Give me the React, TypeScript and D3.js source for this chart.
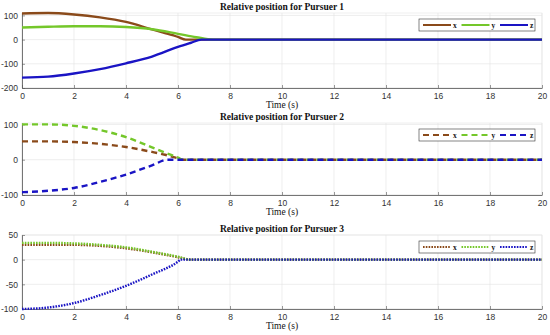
import React, { useEffect, useRef } from 'react'
import * as d3 from 'd3'

// Pursuer 1 (solid)
const p1xT = [0, 1, 2, 3, 4, 5, 5.5, 6, 6.3, 20]
const p1xV = [108, 110, 104, 92, 73, 42, 27, 11, 0, 0]
const p1yT = [0, 1, 2, 3, 4, 5, 6, 6.7, 7.35, 20]
const p1yV = [50, 53, 55, 55, 52, 43, 24, 10, 0, 0]
const p1zT = [0, 1, 2, 3, 4, 5, 6, 6.5, 6.9, 20]
const p1zV = [-157, -153, -140, -122, -98, -70, -30, -13, 0, 0]

// Pursuer 2 (dashed)
const p2xT = [0, 1, 2, 3, 4, 5, 5.5, 6, 6.2, 20]
const p2xV = [52, 52, 50, 45, 36, 22, 14, 4, 0, 0]
const p2yT = [0, 1, 2, 3, 4, 5, 5.5, 6, 6.2, 20]
const p2yV = [100, 100, 96, 84, 64, 35, 20, 6, 0, 0]
const p2zT = [0, 1, 2, 3, 4, 5, 5.6, 20]
const p2zV = [-92, -88, -80, -63, -42, -16, 0, 0]

// Pursuer 3 (dotted)
const p3xT = [0, 1, 2, 3, 4, 5, 6, 6.5, 20]
const p3xV = [30, 30, 30, 28, 23, 15, 5, 0, 0]
const p3yT = [0, 1, 2, 3, 4, 5, 6, 6.5, 20]
const p3yV = [34, 34, 33, 30, 25, 16, 6, 0, 0]
const p3zT = [0, 1, 2, 3, 4, 5, 6, 6.1, 20]
const p3zV = [-100, -97, -88, -72, -53, -30, -4, 0, 0]

const xTicks = [0, 2, 4, 6, 8, 10, 12, 14, 16, 18, 20]
const seriesNames = ['x', 'y', 'z']
const colors = ['#8a4a1a', '#74c72a', '#1a14c4']

const panels = [
  { title: 'Relative position for Pursuer 1', top: 13, bottom: 88, yDomain: [-200, 110], yTicks: [-200, -100, 0, 100], dash: 'none',
    series: [[p1xT, p1xV], [p1yT, p1yV], [p1zT, p1zV]] },
  { title: 'Relative position for Pursuer 2', top: 123, bottom: 195, yDomain: [-100, 104], yTicks: [-100, 0, 100], dash: '6,4',
    series: [[p2xT, p2xV], [p2yT, p2yV], [p2zT, p2zV]] },
  { title: 'Relative position for Pursuer 3', top: 235, bottom: 309, yDomain: [-100, 50], yTicks: [-100, -50, 0, 50], dash: '1.6,1.2',
    series: [[p3xT, p3xV], [p3yT, p3yV], [p3zT, p3zV]] },
]

export default function App() {
  const svgRef = useRef<SVGSVGElement>(null)

  useEffect(() => {
    const svg = d3.select(svgRef.current)
    svg.selectAll('*').remove()

    const width = 550
    const height = 335
    const left = 22
    const right = 542
    svg.attr('width', width).attr('height', height)
    svg.append('rect').attr('width', width).attr('height', height).attr('fill', '#fff')

    const x = d3.scaleLinear().domain([0, 20]).range([left, right])
    const fmt = (d: d3.NumberValue) => String(d)

    panels.forEach((p) => {
      const y = d3.scaleLinear().domain(p.yDomain).range([p.bottom, p.top])
      const g = svg.append('g')

      // grid
      g.selectAll('.gx').data(xTicks).enter().append('line')
        .attr('x1', (d) => x(d)).attr('x2', (d) => x(d))
        .attr('y1', p.top).attr('y2', p.bottom)
        .attr('stroke', '#e3e3e3').attr('stroke-width', 0.6)
      g.selectAll('.gy').data(p.yTicks).enter().append('line')
        .attr('x1', left).attr('x2', right)
        .attr('y1', (d) => y(d)).attr('y2', (d) => y(d))
        .attr('stroke', '#e3e3e3').attr('stroke-width', 0.6)
      g.append('rect')
        .attr('x', left).attr('y', p.top).attr('width', right - left).attr('height', p.bottom - p.top)
        .attr('fill', 'none').attr('stroke', '#e3e3e3').attr('stroke-width', 0.6)

      // axes
      const xAxis = g.append('g').attr('transform', `translate(0,${p.bottom})`)
        .call(d3.axisBottom(x).tickValues(xTicks).tickFormat(fmt).tickSizeInner(-3).tickSizeOuter(0).tickPadding(5))
      const yAxis = g.append('g').attr('transform', `translate(${left},0)`)
        .call(d3.axisLeft(y).tickValues(p.yTicks).tickFormat(fmt).tickSizeInner(-3).tickSizeOuter(0).tickPadding(4))
      ;[xAxis, yAxis].forEach((a) => {
        a.select('.domain').attr('stroke', '#555').attr('stroke-width', 0.8)
        a.selectAll('.tick line').attr('stroke', '#555').attr('stroke-width', 0.6)
        a.selectAll('.tick text').attr('fill', '#333').style('font-family', 'Liberation Sans, Arial, sans-serif').style('font-size', '8.5px')
      })
      yAxis.selectAll('.tick text').attr('dy', '0.32em')

      // lines
      const line = d3.line<[number, number]>()
        .x((d) => x(d[0])).y((d) => y(d[1]))
        .curve(d3.curveMonotoneX)
      p.series.forEach((s, i) => {
        const pts = (s[0] as number[]).map((t, k) => [t, (s[1] as number[])[k]] as [number, number])
        g.append('path')
          .attr('d', line(pts))
          .attr('fill', 'none')
          .attr('stroke', colors[i])
          .attr('stroke-width', 2.4)
          .attr('stroke-dasharray', p.dash)
      })

      // title
      svg.append('text')
        .attr('x', (left + right) / 2).attr('y', p.top - 3)
        .attr('text-anchor', 'middle')
        .style('font-family', 'Liberation Serif, Times New Roman, serif')
        .style('font-size', '9.5px')
        .style('font-weight', '600')
        .attr('fill', '#111')
        .text(p.title)

      // x label
      svg.append('text')
        .attr('x', (left + right) / 2).attr('y', p.bottom + 20)
        .attr('text-anchor', 'middle')
        .style('font-family', 'Liberation Serif, Times New Roman, serif')
        .style('font-size', '9.5px')
        .attr('fill', '#111')
        .text('Time (s)')

      // legend
      const lx = 419
      const ly = p.top + 6
      const lg = svg.append('g')
      lg.append('rect').attr('x', lx).attr('y', ly).attr('width', 116).attr('height', 12)
        .attr('fill', '#fff').attr('stroke', '#333').attr('stroke-width', 0.6)
      seriesNames.forEach((n, i) => {
        const sx = lx + 4 + i * 38.5
        lg.append('line')
          .attr('x1', sx).attr('x2', sx + 28)
          .attr('y1', ly + 6).attr('y2', ly + 6)
          .attr('stroke', colors[i]).attr('stroke-width', 2)
          .attr('stroke-dasharray', p.dash)
        lg.append('text')
          .attr('x', sx + 30).attr('y', ly + 8.5)
          .style('font-family', 'Liberation Serif, Times New Roman, serif')
          .style('font-size', '7.5px')
          .style('font-weight', '700')
          .attr('fill', '#111')
          .text(n)
      })
    })
  }, [])

  return <svg ref={svgRef} style={{ position: 'absolute', left: 0, top: 0 }} />
}
